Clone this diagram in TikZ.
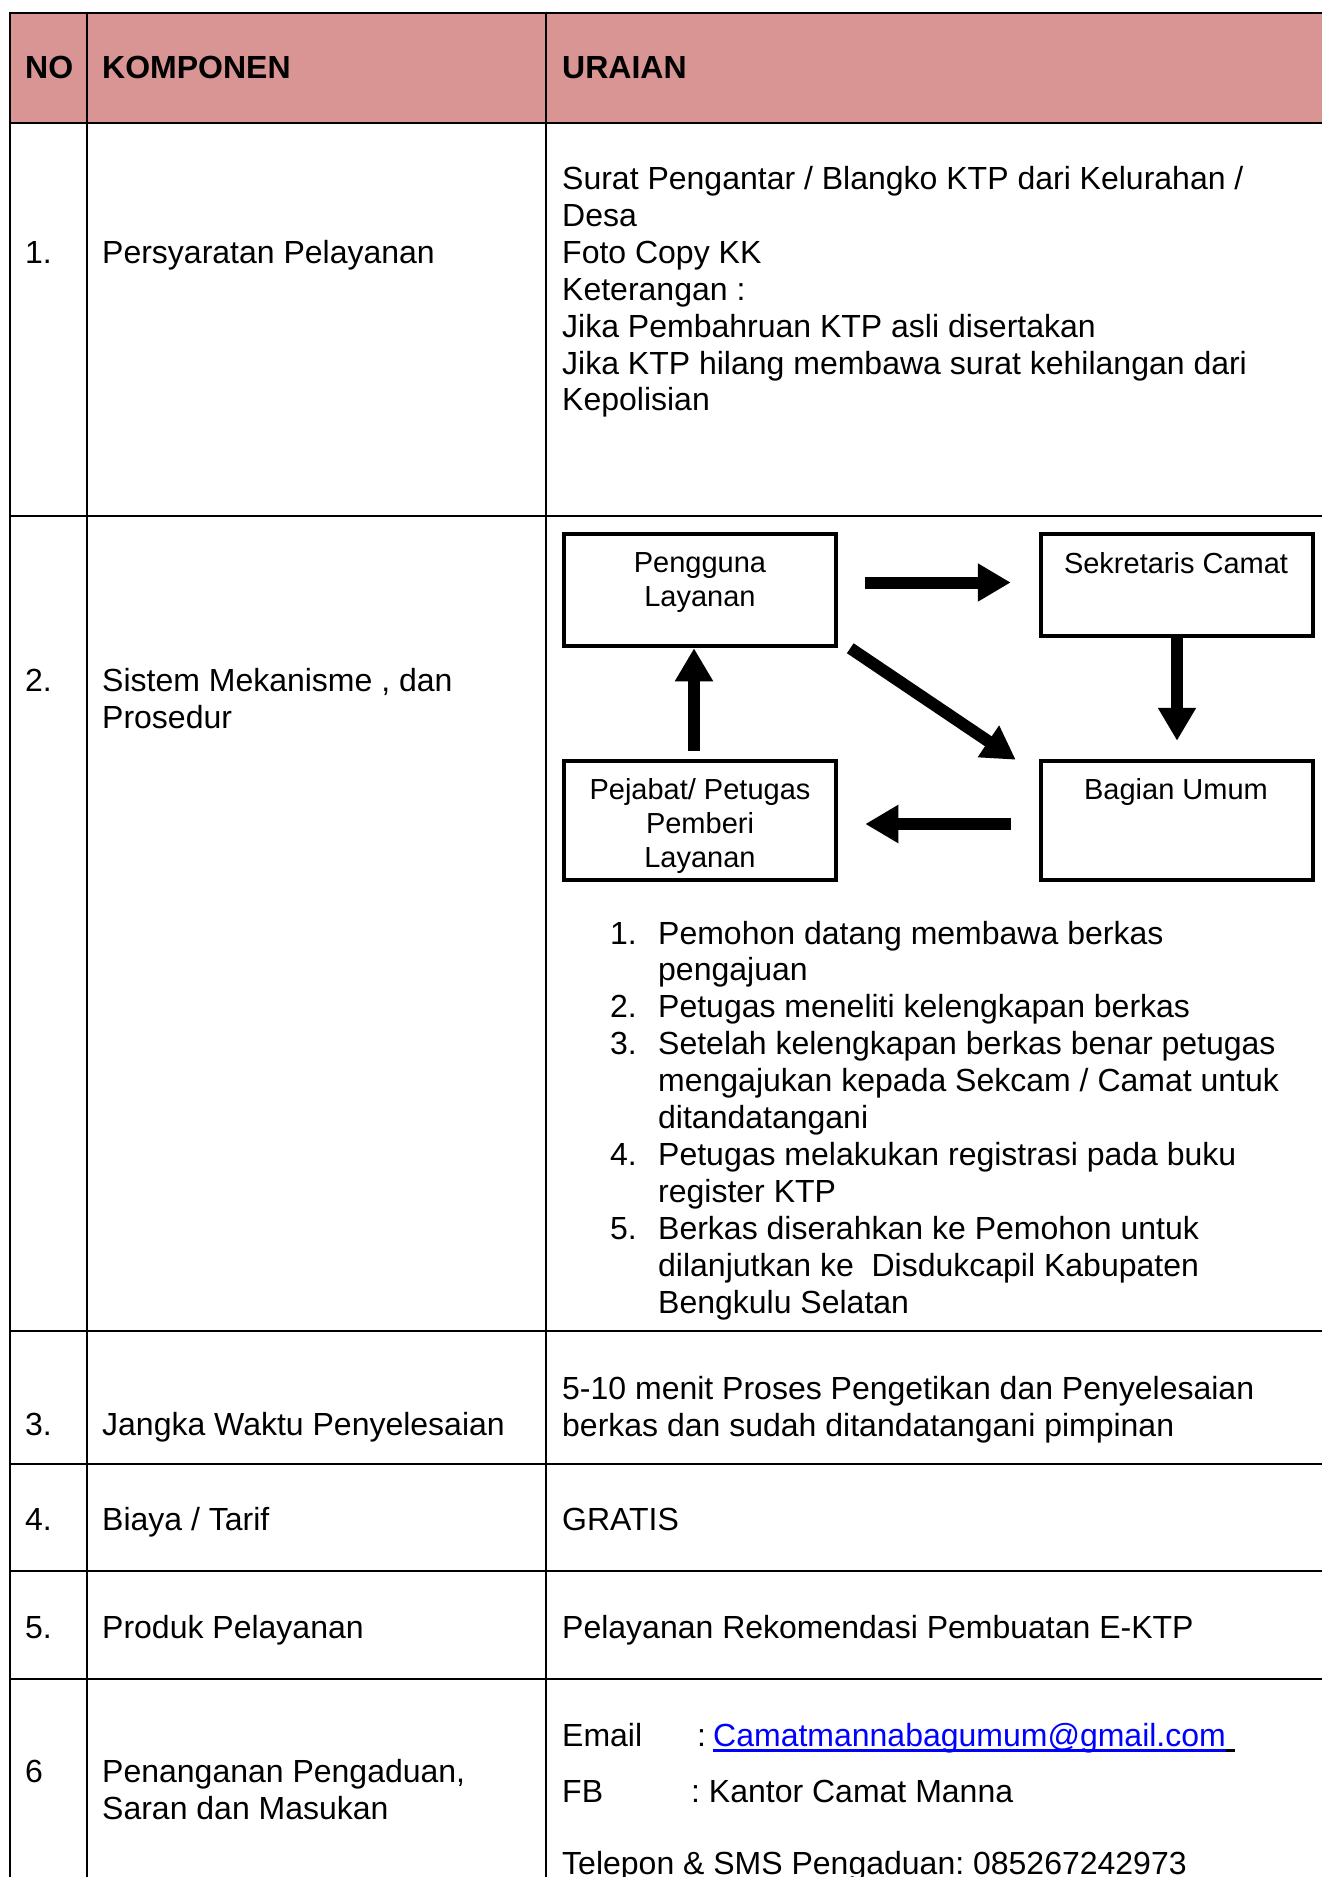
\documentclass[tikz,border=0pt]{standalone}
\usepackage{fontspec}
\setmainfont{Liberation Sans}
\usetikzlibrary{arrows.meta,calc}
\definecolor{hdr}{RGB}{217,148,148}
\definecolor{linkblue}{RGB}{0,0,255}
\frenchspacing
\begin{document}
\frenchspacing
\begin{tikzpicture}[x=1pt,y=-1pt,
  txt/.style={anchor=base west, inner sep=0pt, font=\fontsize{32}{37}\selectfont\frenchspacing},
  hd/.style={anchor=base west, inner sep=0pt, font=\fontsize{32}{37}\selectfont\bfseries},
  gridline/.style={line width=2pt},
  box/.style={draw, line width=4.5pt, minimum width=272pt, inner sep=0pt},
  btxt/.style={anchor=base, inner sep=0pt, font=\fontsize{29}{34}\selectfont},
  blk/.style={line width=12pt, -{Triangle[length=33pt,width=36pt]}},
]
\useasboundingbox (0,0) rectangle (1322,1877);
\clip (0,0) rectangle (1322,1877);
% header
\fill[hdr] (10,12.5) rectangle (1322,123);
% grid
\foreach \yy in {12.5,123,516,1331,1464,1571,1679}
  \draw[gridline] (9,\yy) -- (1322,\yy);
\foreach \xx in {10,87,546}
  \draw[gridline] (\xx,11.5) -- (\xx,1877);
% header text
\node[hd] (hno) at (25,78) {NO};
\node[hd] (hkomp) at (102,78) {KOMPONEN};
\node[hd] (hur) at (562,78) {URAIAN};
% row 1
\node[txt] (n1) at (25,263) {1.};
\node[txt] (k1) at (102,263) {Persyaratan Pelayanan};
\foreach \t [count=\i] in {Surat Pengantar / Blangko KTP dari Kelurahan /, Desa, Foto Copy KK, Keterangan :, Jika Pembahruan KTP asli disertakan, Jika KTP hilang membawa surat kehilangan dari, Kepolisian}
  \node[txt] (u1-\i) at (562,{189.5+36.9*(\i-1)}) {\t};
% row 2
\node[txt] (n2) at (25,691) {2.};
\node[txt] (k2a) at (102,691) {Sistem Mekanisme , dan};
\node[txt] (k2b) at (102,728) {Prosedur};
% diagram boxes
\node[box, minimum height=112pt] (pl) at (700,590) {};
\node[box, minimum height=102pt] (sc) at (1177,585) {};
\node[box, minimum height=119pt] (pj) at (700,820.5) {};
\node[box, minimum height=119pt] (bu) at (1177,820.5) {};
\node[btxt] (plt1) at (700,572) {Pengguna};
\node[btxt] (plt2) at (700,606.5) {Layanan};
\node[btxt] (sct) at (1176,573) {Sekretaris Camat};
\node[btxt] (pjt1) at (700,799) {Pejabat/ Petugas};
\node[btxt] (pjt2) at (700,833) {Pemberi};
\node[btxt] (pjt3) at (700,867.5) {Layanan};
\node[btxt] (but) at (1176,799) {Bagian Umum};
% arrows
\draw[blk, shorten <=27pt, shorten >=28pt] (pl.east |- 0,582.5) -- (sc.west |- 0,582.5);
\draw[blk, shorten >=18pt] (sc.south) -- (bu.north);
\draw[blk] ($(pl.south east)+(12,0)$) -- ($(bu.north west)+(-23,1)$);
\draw[blk, shorten <=28pt, shorten >=27pt] (bu.west |- 0,824) -- (pj.east |- 0,824);
\draw[blk, shorten <=8pt] ([xshift=-6pt]pj.north) -- ([xshift=-6pt]pl.south);
% list
\foreach \t [count=\i] in {Pemohon datang membawa berkas, pengajuan, Petugas meneliti kelengkapan berkas, Setelah kelengkapan berkas benar petugas, mengajukan kepada Sekcam / Camat untuk, ditandatangani, Petugas melakukan registrasi pada buku, register KTP, Berkas diserahkan ke Pemohon untuk, dilanjutkan ke\ \ Disdukcapil Kabupaten, Bengkulu Selatan}
  \node[txt] (li-\i) at (658,{944+36.9*(\i-1)}) {\t};
\foreach \n/\l in {1/1,2/3,3/4,4/7,5/9}
  \node[txt] (ln-\n) at (610,{944+36.9*(\l-1)}) {\n.};
% row 3
\node[txt] (n3) at (25,1435) {3.};
\node[txt] (k3) at (102,1435) {Jangka Waktu Penyelesaian};
\node[txt] (u3a) at (562,1399) {5-10 menit Proses Pengetikan dan Penyelesaian};
\node[txt] (u3b) at (562,1436) {berkas dan sudah ditandatangani pimpinan};
% row 4
\node[txt] (n4) at (25,1530) {4.};
\node[txt] (k4) at (102,1530) {Biaya / Tarif};
\node[txt] (u4) at (562,1530) {GRATIS};
% row 5
\node[txt] (n5) at (25,1638.5) {5.};
\node[txt] (k5) at (102,1638.5) {Produk Pelayanan};
\node[txt] (u5) at (562,1638.5) {Pelayanan Rekomendasi Pembuatan E-KTP};
% row 6
\node[txt] (n6) at (25,1782) {6};
\node[txt] (k6a) at (102,1782) {Penanganan Pengaduan,};
\node[txt] (k6b) at (102,1819) {Saran dan Masukan};
\node[txt] (eml) at (562,1746) {Email};
\node[txt] (emc) at (697,1746) {:};
\node[txt, text=linkblue] (em) at (713,1746) {Camatmannabagumum@gmail.com};
\draw[linkblue, line width=2.3pt] ($(em.base west)+(0,4.5)$) -- ($(em.base east)+(0,4.5)$);
\draw[line width=2.3pt] ($(em.base east)+(0,4.5)$) -- ($(em.base east)+(9,4.5)$);
\node[txt] (fbl) at (562,1802) {FB};
\node[txt] (fbv) at (691,1802) {: Kantor Camat Manna};
\node[txt] (tel) at (562,1874) {Telepon \& SMS Pengaduan: 085267242973};
\end{tikzpicture}
\end{document}
